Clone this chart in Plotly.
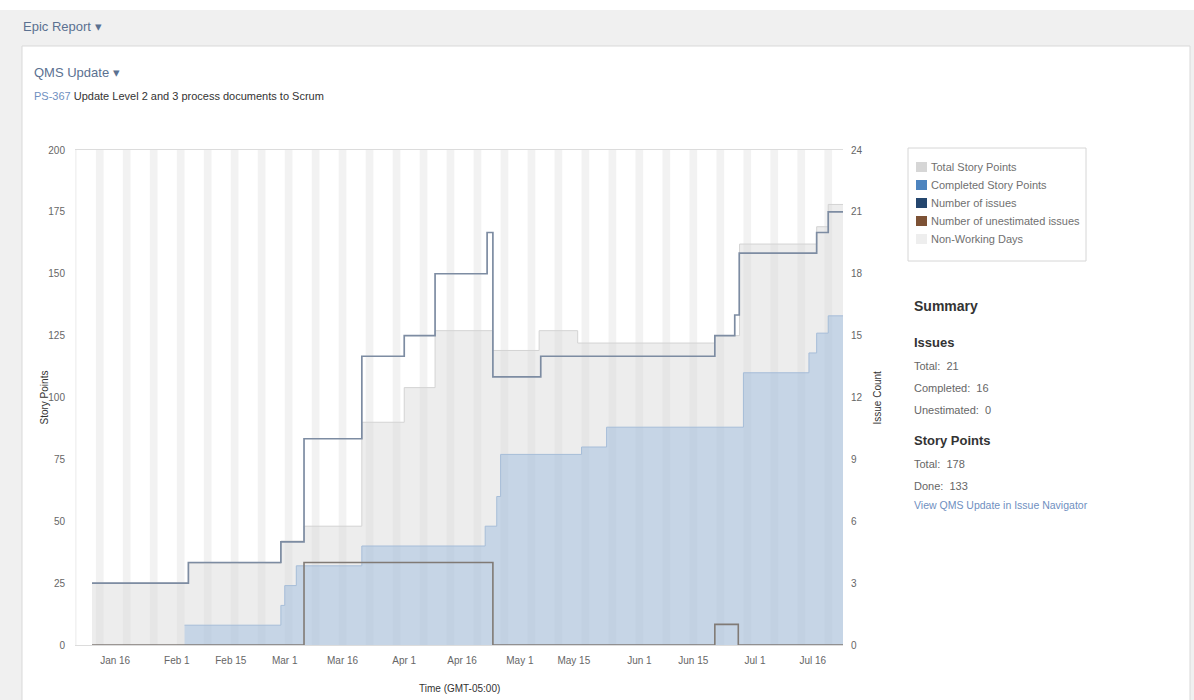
import pandas as pd
import plotly.graph_objects as go

# ---------------- data ----------------
total_dates = ["2014-01-10", "2014-02-04", "2014-02-28", "2014-03-06", "2014-03-21",
               "2014-04-01", "2014-04-09", "2014-04-24", "2014-05-06", "2014-05-16",
               "2014-06-20 14:00", "2014-06-27", "2014-07-17", "2014-07-20", "2014-07-24"]
total_sp = [25, 33, 42, 48, 90, 104, 127, 119, 127, 122, 125, 162, 169, 178, 178]

completed_dates = ["2014-02-03", "2014-02-28", "2014-03-01", "2014-03-04", "2014-03-21",
                   "2014-04-22", "2014-04-25", "2014-04-26", "2014-05-17", "2014-05-23 12:00",
                   "2014-06-28", "2014-07-15", "2014-07-17", "2014-07-20", "2014-07-24"]
completed_sp = [8, 16, 24, 32, 40, 48, 60, 77, 80, 88, 110, 118, 126, 133, 133]

issue_dates = ["2014-01-10", "2014-02-04", "2014-02-28", "2014-03-06", "2014-03-21",
               "2014-04-01", "2014-04-09", "2014-04-22 12:00", "2014-04-24", "2014-05-06 10:00",
               "2014-06-20 14:00", "2014-06-25 18:00", "2014-06-26 22:00", "2014-07-17",
               "2014-07-20", "2014-07-24"]
issue_counts = [3, 4, 5, 10, 14, 15, 18, 20, 13, 14, 15, 16, 19, 20, 21, 21]

unest_dates = ["2014-01-10", "2014-03-06", "2014-04-24", "2014-06-20 14:00",
               "2014-06-26 16:00", "2014-07-24"]
unest_counts = [0, 4, 0, 1, 0, 0]

x_tick_dates = ["2014-01-16", "2014-02-01", "2014-02-15", "2014-03-01", "2014-03-16",
                "2014-04-01", "2014-04-16", "2014-05-01", "2014-05-15", "2014-06-01",
                "2014-06-15", "2014-07-01", "2014-07-16"]
x_tick_text = ["Jan 16", "Feb 1", "Feb 15", "Mar 1", "Mar 16", "Apr 1", "Apr 16",
               "May 1", "May 15", "Jun 1", "Jun 15", "Jul 1", "Jul 16"]

legend_labels = ["Total Story Points", "Completed Story Points", "Number of issues",
                 "Number of unestimated issues", "Non-Working Days"]
legend_colors = ["#d6d6d6", "#4d84bf", "#24466e", "#7d5235", "#eeeeee"]

summary_issue_labels = ["Total:", "Completed:", "Unestimated:"]
summary_issue_values = [21, 16, 0]
summary_sp_labels = ["Total:", "Done:"]
summary_sp_values = [178, 133]

x_range = ["2014-01-05 14:00", "2014-07-23 20:00"]

# non-working days: weekends (Saturday + Sunday) within the range
saturdays = pd.date_range("2014-01-04", "2014-07-26", freq="W-SAT")

# ---------------- layout helpers ----------------
W, H = 1194, 700
L, R, T, B = 75, 843, 150, 645
FONT = "Liberation Sans, Arial, sans-serif"


def px(x):
    return (x - L) / (R - L)


def py(y):
    return (B - y) / (B - T)


fig = go.Figure()

fig.add_trace(go.Scatter(
    x=total_dates, y=total_sp, mode="lines", name="Total Story Points",
    line=dict(shape="hv", color="#d3d3d3", width=1),
    fill="tozeroy", fillcolor="rgba(218,218,218,0.48)", showlegend=False,
    hoverinfo="skip"))
fig.add_trace(go.Scatter(
    x=completed_dates, y=completed_sp, mode="lines", name="Completed Story Points",
    line=dict(shape="hv", color="#a6bdd8", width=1),
    fill="tozeroy", fillcolor="rgba(150,185,221,0.45)", showlegend=False,
    hoverinfo="skip"))
fig.add_trace(go.Scatter(
    x=unest_dates, y=unest_counts, mode="lines", name="Number of unestimated issues",
    line=dict(shape="hv", color="#807a75", width=1.6), yaxis="y2", showlegend=False,
    hoverinfo="skip"))
fig.add_trace(go.Scatter(
    x=issue_dates, y=issue_counts, mode="lines", name="Number of issues",
    line=dict(shape="hv", color="#7d8ca2", width=1.7), yaxis="y2", showlegend=False,
    hoverinfo="skip"))

shapes = []
# page header strip + white panel
shapes.append(dict(type="rect", xref="paper", yref="paper", x0=px(-5), x1=px(W + 5),
                   y0=py(10), y1=py(-5), fillcolor="#ffffff", line=dict(width=0),
                   layer="below"))
shapes.append(dict(type="rect", xref="paper", yref="paper", x0=px(22), x1=px(1190),
                   y0=py(H + 10), y1=py(46), fillcolor="#ffffff",
                   line=dict(color="#d9d9d9", width=1), layer="below"))
# weekend stripes
for s in saturdays:
    shapes.append(dict(type="rect", xref="x", yref="paper", x0=s, x1=s + pd.Timedelta(days=2),
                       y0=0, y1=1, fillcolor="#f2f2f2", line=dict(width=0), layer="below"))

# legend box (drawn manually)
LX0, LX1, LY0, LY1 = 908, 1086, 148, 261
shapes.append(dict(type="rect", xref="paper", yref="paper", x0=px(LX0), x1=px(LX1),
                   y0=py(LY1), y1=py(LY0), fillcolor="#ffffff",
                   line=dict(color="#d6d6d6", width=1), layer="above"))
annotations = []
row_y = [167, 185, 203, 221, 239]
for lab, col, yy in zip(legend_labels, legend_colors, row_y):
    shapes.append(dict(type="rect", xref="paper", yref="paper", x0=px(916), x1=px(927),
                       y0=py(yy + 5), y1=py(yy - 5), fillcolor=col,
                       line=dict(width=0), layer="above"))
    annotations.append(dict(text=lab, xref="paper", yref="paper", x=px(929), y=py(yy),
                            xanchor="left", yanchor="middle", showarrow=False,
                            font=dict(family=FONT, size=11, color="#707070")))

# axis titles
annotations.append(dict(text="Story Points", xref="paper", yref="paper", x=px(44), y=0.5,
                        xanchor="center", yanchor="middle", textangle=-90, showarrow=False,
                        font=dict(family=FONT, size=10, color="#333333")))
annotations.append(dict(text="Issue Count", xref="paper", yref="paper", x=px(877), y=0.5,
                        xanchor="center", yanchor="middle", textangle=-90, showarrow=False,
                        font=dict(family=FONT, size=10, color="#333333")))
annotations.append(dict(text="Time (GMT-05:00)", xref="paper", yref="paper", x=0.5, y=py(688),
                        xanchor="center", yanchor="middle", showarrow=False,
                        font=dict(family=FONT, size=10, color="#333333")))

# header texts
annotations.append(dict(text="Epic Report \u25be", xref="paper", yref="paper", x=px(21), y=py(27),
                        xanchor="left", yanchor="middle", showarrow=False,
                        font=dict(family=FONT, size=13, color="#5b7191")))
annotations.append(dict(text="QMS Update \u25be", xref="paper", yref="paper", x=px(32), y=py(72),
                        xanchor="left", yanchor="middle", showarrow=False,
                        font=dict(family=FONT, size=13, color="#5b7191")))
annotations.append(dict(text="<span style='color:#6f8fbf'>PS-367</span> Update Level 2 and 3 process documents to Scrum",
                        xref="paper", yref="paper", x=px(32), y=py(96),
                        xanchor="left", yanchor="middle", showarrow=False,
                        font=dict(family=FONT, size=11, color="#333333")))

# summary panel
SX = 912
annotations.append(dict(text="<b>Summary</b>", xref="paper", yref="paper", x=px(SX), y=py(306),
                        xanchor="left", yanchor="middle", showarrow=False,
                        font=dict(family=FONT, size=14, color="#333333")))
annotations.append(dict(text="<b>Issues</b>", xref="paper", yref="paper", x=px(SX), y=py(342),
                        xanchor="left", yanchor="middle", showarrow=False,
                        font=dict(family=FONT, size=13, color="#333333")))
for i, (lab, val) in enumerate(zip(summary_issue_labels, summary_issue_values)):
    annotations.append(dict(text=f"{lab}&nbsp;&nbsp;{val}", xref="paper", yref="paper",
                            x=px(SX), y=py(366 + 22 * i), xanchor="left", yanchor="middle",
                            showarrow=False, font=dict(family=FONT, size=11, color="#666666")))
annotations.append(dict(text="<b>Story Points</b>", xref="paper", yref="paper", x=px(SX), y=py(440),
                        xanchor="left", yanchor="middle", showarrow=False,
                        font=dict(family=FONT, size=13, color="#333333")))
for i, (lab, val) in enumerate(zip(summary_sp_labels, summary_sp_values)):
    annotations.append(dict(text=f"{lab}&nbsp;&nbsp;{val}", xref="paper", yref="paper",
                            x=px(SX), y=py(464 + 22 * i), xanchor="left", yanchor="middle",
                            showarrow=False, font=dict(family=FONT, size=11, color="#666666")))
annotations.append(dict(text="View QMS Update in Issue Navigator", xref="paper", yref="paper",
                        x=px(SX), y=py(505), xanchor="left", yanchor="middle", showarrow=False,
                        font=dict(family=FONT, size=10.5, color="#6f8fbf")))

fig.update_layout(
    width=W, height=H,
    margin=dict(l=L, r=W - R, t=T, b=H - B),
    paper_bgcolor="#f0f0f0", plot_bgcolor="#ffffff",
    font=dict(family=FONT, size=10, color="#666666"),
    showlegend=False,
    shapes=shapes, annotations=annotations,
    xaxis=dict(type="date", range=x_range, tickvals=x_tick_dates, ticktext=x_tick_text,
               showgrid=False, zeroline=False, showline=True, mirror=True, automargin=False,
               linecolor="#dcdcdc", linewidth=1, ticks="outside", ticklen=6,
               tickcolor="rgba(0,0,0,0)", tickfont=dict(size=10, color="#666666")),
    yaxis=dict(range=[0, 200], dtick=25, showgrid=False, zeroline=False, showline=False,
               automargin=False, ticks="outside", ticklen=7, tickcolor="rgba(0,0,0,0)",
               tickfont=dict(size=10, color="#666666")),
    yaxis2=dict(range=[0, 24], dtick=3, overlaying="y", side="right", showgrid=False,
                zeroline=False, showline=False, automargin=False, ticks="outside", ticklen=5,
                tickcolor="rgba(0,0,0,0)", tickfont=dict(size=10, color="#666666")),
)

fig.write_html("out.html")
